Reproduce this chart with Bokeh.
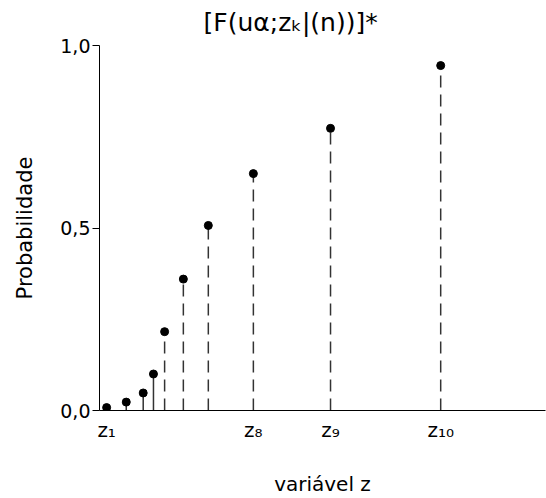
from bokeh.plotting import figure
from bokeh.models import (Range1d, FixedTicker, ColumnDataSource, Title)
from bokeh.embed import file_html
from bokeh.resources import INLINE

# ---- data ----
z_pos = [1.6, 6.0, 9.8, 12.1, 14.6, 18.8, 24.4, 34.5, 51.8, 76.5]
prob = [0.008, 0.023, 0.048, 0.10, 0.216, 0.36, 0.507, 0.649, 0.773, 0.945]
n_solid = 4
z_label_idx = [0, 7, 8, 9]
z_label_txt = ["z\u2081", "z\u2088", "z\u2089", "z\u2081\u2080"]
y_ticks = [0, 0.5, 1.0]
y_tick_labels = {0: "0,0", 0.5: "0,5", 1: "1,0"}
title_txt = "[F(u\u03b1;z\u2096|(n))]*"
FONT = "DejaVu Sans"

p = figure(width=546, height=498, output_backend="svg", toolbar_location=None,
           x_range=Range1d(0, 100), y_range=Range1d(0, 1.0),
           min_border_left=99, min_border_right=1, min_border_top=45,
           min_border_bottom=88)
p.outline_line_color = None
p.xgrid.visible = False
p.ygrid.visible = False
p.background_fill_color = "white"
p.border_fill_color = "white"

# spacer between frame and title, then the title itself
p.add_layout(Title(text=" ", text_font_size="7px", standoff=0), "above")
t = Title(text=title_txt, align="left", offset=104, text_font=FONT,
          text_font_size="25px", text_font_style="normal", text_color="black",
          standoff=0)
p.add_layout(t, "above")

# y axis
ya = p.yaxis[0]
ya.ticker = FixedTicker(ticks=y_ticks)
ya.major_label_overrides = y_tick_labels
ya.major_tick_out = 7
ya.major_tick_in = 0
ya.minor_tick_line_color = None
ya.axis_line_color = "black"
ya.major_tick_line_color = "black"
ya.major_label_text_font = FONT
ya.major_label_text_font_size = "19px"
ya.major_label_text_color = "black"
ya.major_label_standoff = 2
ya.axis_label = "Probabilidade"
ya.axis_label_text_font = FONT
ya.axis_label_text_font_size = "21px"
ya.axis_label_text_font_style = "normal"
ya.axis_label_text_color = "black"
ya.axis_label_standoff = 20

# x axis: labels z1, z8, z9, z10 at the point positions
xa = p.xaxis[0]
xa.ticker = FixedTicker(ticks=[z_pos[i] for i in z_label_idx])
xa.major_label_overrides = {z_pos[i]: s for i, s in zip(z_label_idx, z_label_txt)}
xa.major_tick_out = 0
xa.major_tick_in = 0
xa.major_tick_line_color = None
xa.minor_tick_line_color = None
xa.axis_line_color = "black"
xa.major_label_text_font = FONT
xa.major_label_text_font_size = "20px"
xa.major_label_text_color = "black"
xa.major_label_standoff = 7
xa.axis_label = "variável z"
xa.axis_label_text_font = FONT
xa.axis_label_text_font_size = "20px"
xa.axis_label_text_font_style = "normal"
xa.axis_label_text_color = "black"
xa.axis_label_standoff = 27

# stems
solid = ColumnDataSource(dict(x=z_pos[:n_solid], y=prob[:n_solid], y0=[0] * n_solid))
dashed = ColumnDataSource(dict(x=z_pos[n_solid:], y=prob[n_solid:],
                               y0=[0] * (len(z_pos) - n_solid)))
p.segment(x0="x", y0="y0", x1="x", y1="y", source=solid,
          line_color="#333333", line_width=1.5)
p.segment(x0="x", y0="y0", x1="x", y1="y", source=dashed,
          line_color="#333333", line_width=1.5, line_dash="12 7")

# points
p.scatter(z_pos, prob, size=8, color="black")

open("out.html", "w").write(file_html(p, INLINE))
